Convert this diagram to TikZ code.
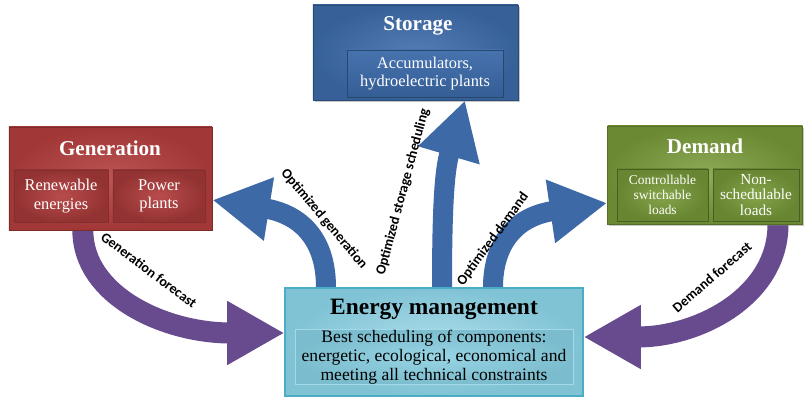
\documentclass[tikz,border=0pt]{standalone}
\usepackage{fontspec}
\setmainfont{Liberation Serif}
\newfontfamily\lblfamily{Carlito}
\usepackage{tikz}
\usetikzlibrary{arrows.meta,backgrounds,shadows}
\definecolor{genred}{HTML}{B33D3D}
\definecolor{storblue}{HTML}{3D6BAA}
\definecolor{demgreen}{HTML}{7A9C3A}
\definecolor{emcyan}{HTML}{86CDE0}
\definecolor{emedge}{HTML}{4BACC6}
\definecolor{arrowblue}{HTML}{3D69A6}
\definecolor{arrowpurple}{HTML}{674B8E}
\tikzset{
  bigtip/.tip={Triangle[length=1.72cm,width=1.8cm]},
  mainbox/.style={
    rectangle,
    inner sep=0pt,
    line width=0.6pt
  },
  partbox/.style={
    mainbox,
    align=center,
    text=white
  },
  genbox/.style={
    mainbox,
    draw=genred!70!black,
    inner color=genred!88!white,
    outer color=genred!90!black,
    minimum width=6.09cm,
    minimum height=3.09cm
  },
  genpart/.style={
    partbox,
    draw=genred!75!black,
    inner color=genred!92!white,
    outer color=genred!82!black,
    minimum width=2.82cm,
    minimum height=1.56cm,
    font=\fontsize{14}{16}\selectfont
  },
  storbox/.style={
    mainbox,
    draw=storblue!70!black,
    inner color=storblue!88!white,
    outer color=storblue!90!black,
    minimum width=6.15cm,
    minimum height=2.85cm,
    drop shadow={shadow xshift=1.5pt,shadow yshift=-2pt,opacity=0.45}
  },
  storpart/.style={
    partbox,
    draw=storblue!65!black,
    top color=storblue!95!white,
    bottom color=storblue!88!black,
    minimum width=4.68cm,
    minimum height=1.41cm,
    font=\fontsize{14}{15.5}\selectfont
  },
  dembox/.style={
    mainbox,
    draw=demgreen!70!black,
    inner color=demgreen!85!white,
    outer color=demgreen!88!black,
    minimum width=5.85cm,
    minimum height=2.94cm,
    drop shadow={shadow xshift=1.5pt,shadow yshift=-2pt,opacity=0.45}
  },
  dempart/.style={
    partbox,
    draw=demgreen!60!black,
    inner color=demgreen!92!white,
    outer color=demgreen!85!black,
    minimum width=2.73cm,
    minimum height=1.56cm,
    font=\fontsize{13}{13.5}\selectfont
  },
  embox/.style={
    mainbox,
    draw=emedge,
    line width=1pt,
    inner color=emcyan!70!white,
    outer color=emcyan!95!black,
    minimum width=8.94cm,
    minimum height=3.24cm
  },
  empart/.style={
    partbox,
    text=black,
    draw=emcyan!75!white,
    inner color=emcyan!85!white,
    outer color=emcyan!92!black,
    minimum width=8.34cm,
    minimum height=1.65cm,
    font=\fontsize{15}{16}\selectfont
  },
  boxtitle/.style={
    font=\fontsize{18}{20}\selectfont\bfseries,
    text=white
  },
  planarrow/.style={
    draw=arrowblue,
    line width=0.6cm,
    -bigtip
  },
  planarrowback/.style={
    draw=arrowblue,
    line width=0.6cm,
    bigtip-
  },
  forecastarrow/.style={
    draw=arrowpurple,
    line width=0.63cm,
    -bigtip
  },
  forecastarrowback/.style={
    draw=arrowpurple,
    line width=0.63cm,
    bigtip-
  },
  arrowlabel/.style={
    font=\lblfamily\fontsize{12}{13}\selectfont\bfseries,
    inner sep=1pt
  }
}
\begin{document}
\begin{tikzpicture}[x=0.03cm,y=-0.03cm]
    \useasboundingbox (0,0) rectangle (804,401);

    % the four blocks
    \node[genbox] (gen) at (110.5,178.5) {};
    \node[boxtitle] (gentitle) at (110,148) {Generation};
    \node[genpart] (genren) at (61,196) {Renewable\\energies};
    \node[genpart, minimum width=2.76cm] (genpow) at (159,196) {Power\\plants};

    \node[storbox] (stor) at (415.5,52.5) {};
    \node[boxtitle] (stortitle) at (418,26) {Storage};
    \node[storpart] (storacc) at (425,73.5) {Accumulators,\\hydroelectric plants};

    \node[dembox] (dem) at (705,175) {};
    \node[boxtitle] (demtitle) at (705,146) {Demand};
    \node[dempart, font=\fontsize{11.5}{12.8}\selectfont] (demctl) at (662.5,195) {Controllable\\switchable\\loads};
    \node[dempart, minimum width=2.58cm] (demnon) at (756,195) {Non-\\schedulable\\loads};

    \node[embox] (em) at (434,342) {};
    \node[boxtitle, text=black, font=\fontsize{20}{22}\selectfont\bfseries] (emtitle) at (434,309) {Energy management};
    \node[empart] (emtxt) at (434,357) {Best scheduling of components:\\energetic, ecological, economical and\\meeting all technical constraints};

    % block arrows, behind the boxes
    \begin{scope}[on background layer]
        \draw[forecastarrow] ([xshift=-0.83cm]gen.south) .. controls +(0,65) and +(-120,0) .. ([yshift=0.27cm]em.west);
        \draw[forecastarrowback] ([yshift=0.15cm]em.east) .. controls +(115,0) and +(0,72) .. ([xshift=2.19cm]dem.south);
        \draw[planarrowback] ([yshift=-0.645cm]gen.east) .. controls +(75,12) and +(0,-60) .. ([xshift=-3.24cm]em.north);
        \draw[planarrow] ([xshift=0.24cm]em.north) .. controls +(0,-88) and +(-20,68) .. ([xshift=1.485cm]stor.south);
        \draw[planarrow] ([xshift=1.77cm]em.north) .. controls +(0,-40) and +(-95,14) .. ([yshift=-0.84cm]dem.west);
    \end{scope}

    % labels
    \node[arrowlabel, rotate=-37] (lblgenfc) at (149,270) {Generation forecast};
    \node[arrowlabel, rotate=-50] (lblopgen) at (324,219) {Optimized generation};
    \node[arrowlabel, rotate=75] (lblopsto) at (403,192) {Optimized storage scheduling};
    \node[arrowlabel, rotate=54] (lblopdem) at (493,239) {Optimized demand};
    \node[arrowlabel, rotate=41] (lbldemfc) at (712,277) {Demand forecast};
\end{tikzpicture}
\end{document}
